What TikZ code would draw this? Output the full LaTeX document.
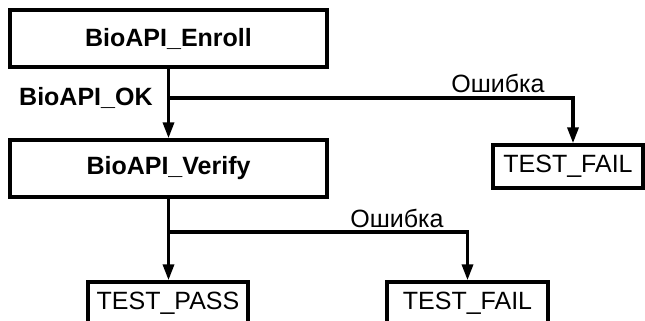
\documentclass[tikz,border=0pt]{standalone}
\usepackage{fontspec}
\setmainfont{Liberation Sans}
\usetikzlibrary{arrows.meta}
\begin{document}
\begin{tikzpicture}[x=1pt,y=-1pt,
  bigbox/.style={draw,line width=3.4pt,minimum width=317pt,minimum height=57pt,inner sep=0pt,font=\fontsize{25}{29}\selectfont\bfseries},
  smallbox/.style={draw,line width=3.4pt,minimum height=43pt,inner sep=0pt,font=\fontsize{25}{29}\selectfont},
  lbl/.style={inner sep=0pt,font=\fontsize{25}{29}\selectfont},
  arr/.style={line width=3.4pt,-{Triangle[length=16pt,width=11pt]}}]
\useasboundingbox (0,0) rectangle (645,321);
\clip (0,0) rectangle (645,321);
\node[bigbox] (enroll) at (168.5,38.5) {BioAPI\_Enroll};
\node[bigbox] (verify) at (168.5,168.5) {BioAPI\_Verify};
\node[smallbox,minimum width=150pt] (fail1) at (568,166.5) {TEST\_FAIL};
\node[smallbox,minimum width=160pt] (pass) at (168,303.5) {TEST\_PASS};
\node[smallbox,minimum width=161pt] (fail2) at (467.5,303.5) {TEST\_FAIL};
\node[lbl,font=\fontsize{25}{29}\selectfont\bfseries,anchor=west] (ok) at (19,98) {BioAPI\_OK};
\node[lbl] (err1) at (498,83) {Ошибка};
\node[lbl] (err2) at (397,218) {Ошибка};
\coordinate (b1) at (168.5,98);
\coordinate (b2) at (168.5,232);
\coordinate (t1) at ([xshift=5pt]fail1.north);
\draw[arr] (enroll.south) -- (verify.north);
\draw[arr] (b1) -| (t1);
\draw[arr] (verify.south) -- (verify.south |- pass.north);
\draw[arr] (b2) -| (fail2.north);
\end{tikzpicture}
\end{document}
